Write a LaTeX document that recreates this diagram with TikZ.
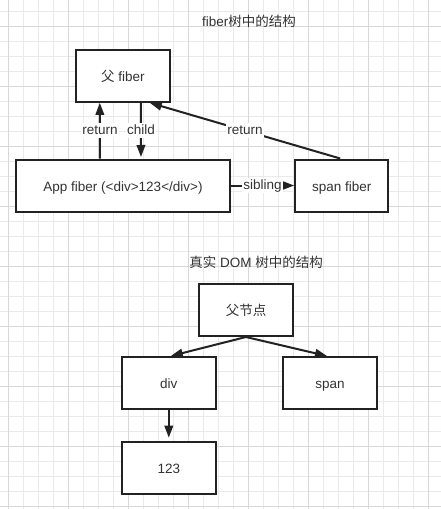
\documentclass[tikz,border=0pt]{standalone}
\usepackage{fontspec}
\setmainfont{Liberation Sans}
\newfontfamily\cjk{Noto Sans CJK SC}
\usetikzlibrary{arrows.meta,calc}
\definecolor{SketchInk}{HTML}{222222}
\definecolor{SketchText}{HTML}{333333}
\definecolor{GridMinor}{HTML}{EAEAEA}
\definecolor{GridMajor}{HTML}{D8D8D8}
\tikzset{
  every node/.style={font=\fontsize{13.5}{16}\selectfont, text=SketchText},
  box/.style={draw=SketchInk, line width=2pt, fill=white, minimum width=94pt, minimum height=52pt, inner sep=0pt, text height=12pt, text depth=1pt},
  link/.style={-{Triangle[length=12pt,width=8.5pt]}, draw=SketchInk, line width=2pt},
  edgelabel/.style={fill=white, inner sep=1pt, text height=10pt, text depth=3pt},
  gridminor/.style={draw=GridMinor, line width=1pt},
  gridmajor/.style={draw=GridMajor, line width=1pt},
}

\begin{document}
\begin{tikzpicture}[x=1pt,y=-1pt]
  \useasboundingbox (0,0) rectangle (441,509);
  \fill[white] (0,0) rectangle (441,509);
  % Grid: minor every 15, major every 60
  \foreach \i in {0,...,28}
    \draw[gridminor] (8.33+15*\i,0) -- (8.33+15*\i,509);
  \foreach \j in {0,...,33}
    \draw[gridminor] (0,11+15*\j) -- (441,11+15*\j);
  \foreach \i in {0,...,7}
    \draw[gridmajor] (8.33+60*\i,0) -- (8.33+60*\i,509);
  \foreach \j in {0,...,8}
    \draw[gridmajor] (0,26+60*\j) -- (441,26+60*\j);

  % fiber tree
  \node (fibertitle) at (249,21) {fiber{\cjk 树中的结构}};
  \node[box] (fparent) at (122.8,75.8) {{\cjk 父} fiber};
  \node[box, minimum width=214pt] (app) at (123,185.5) {App fiber (<div>123</div>)};
  \node[box, minimum width=93pt] (spanf) at (341.7,185.5) {span fiber};
  \draw[link] ([xshift=-23pt]app.north) -- node[edgelabel] {return} ([xshift=-23pt]fparent.south);
  \draw[link, shorten >=1.5pt] ([xshift=18pt]fparent.south) -- node[edgelabel] {child} ([xshift=18pt]app.north);
  \draw[link] (app.east) -- node[edgelabel] {sibling} (spanf.west);
  \draw[link] ([xshift=-1.5pt]spanf.north) -- node[edgelabel] {return} ([xshift=27pt]fparent.south);

  % real DOM tree
  \node (domtitle) at (256,262.7) {{\cjk 真实} DOM {\cjk 树中的结构}};
  \node[box] (dparent) at (246,310) {{\cjk 父节点}};
  \node[box] (ddiv) at (168.8,383) {div};
  \node[box] (dspan) at (330,383) {span};
  \node[box] (d123) at (168.8,467.7) {123};
  \draw[link] (dparent.south) -- ([xshift=2pt]ddiv.north);
  \draw[link] (dparent.south) -- ([xshift=-3pt]dspan.north);
  \draw[link, shorten >=3pt] (ddiv.south) -- (d123.north);
\end{tikzpicture}
\end{document}
